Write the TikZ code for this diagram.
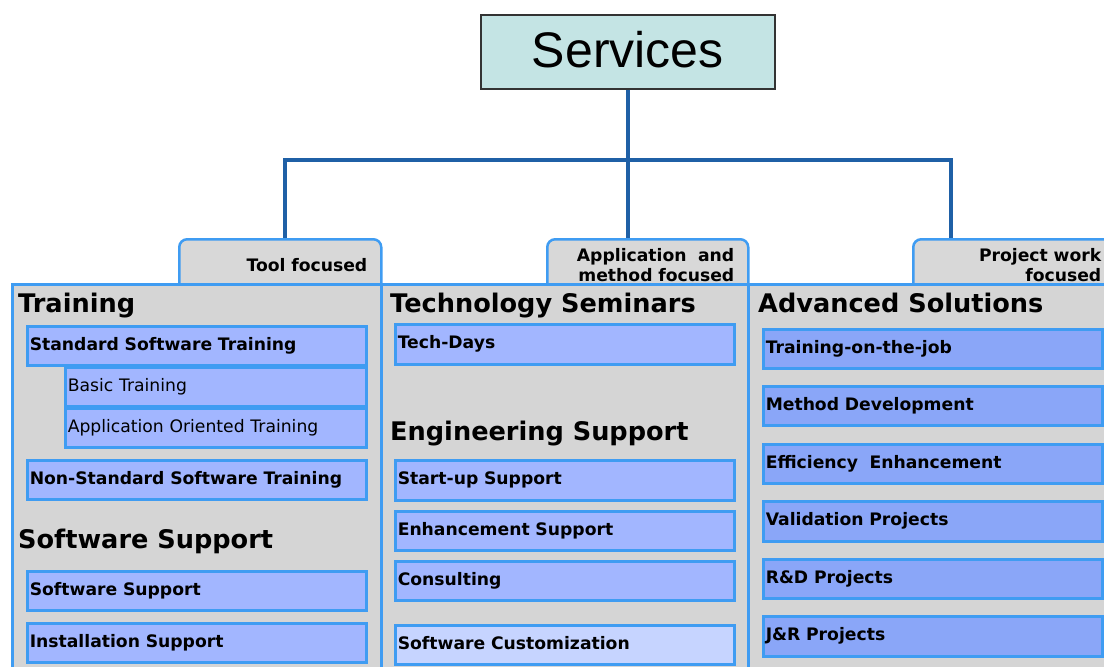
\documentclass[tikz,border=0pt]{standalone}
\usepackage{fontspec}
\setmainfont{DejaVu Sans}
\newfontfamily\arialf{Liberation Sans}
\definecolor{bord}{HTML}{3F9CF2}
\definecolor{colgray}{HTML}{D5D5D5}
\definecolor{tabgray}{HTML}{D8D8D8}
\definecolor{boxblue}{HTML}{A2B6FF}
\definecolor{boxblueB}{HTML}{8AA6F8}
\definecolor{boxlight}{HTML}{C6D4FF}
\definecolor{servfill}{HTML}{C4E4E4}
\definecolor{connblue}{HTML}{1F60A6}
\tikzset{
  column/.style={draw=bord, line width=2.5pt, fill=colgray, anchor=north west, inner sep=0pt},
  tabbox/.style={draw=bord, line width=2.5pt, fill=tabgray, rounded corners=8pt, anchor=north west,
    minimum height=52pt, inner xsep=14pt, inner ysep=0pt, align=right,
    font=\fontsize{17.2}{20}\selectfont\bfseries},
  item/.style={draw=bord, line width=2.5pt, fill=boxblue, anchor=north west, inner xsep=2.5pt, inner ysep=0pt,
    minimum height=39pt, text height=12pt, text depth=3.5pt, align=left,
    font=\fontsize{17.2}{20}\selectfont\bfseries},
  itemw/.style={item, text width=334pt},
  itemn/.style={item, text width=296pt, font=\fontsize{17.2}{20}\selectfont},
  itemb/.style={itemw, fill=boxblueB},
  head/.style={anchor=base west, inner sep=0pt, font=\fontsize{25.6}{30}\selectfont\bfseries},
  conn/.style={draw=connblue, line width=4pt},
}
\begin{document}
\begin{tikzpicture}[x=1pt,y=-1pt]
\useasboundingbox (0,0) rectangle (1104,667);
\clip (0,0) rectangle (1104,667);
% services
\node[draw=black!80, line width=1.5pt, fill=servfill, anchor=north west, minimum width=294pt, minimum height=74pt,
  inner sep=0pt, text height=38pt, text depth=6pt, font=\arialf\fontsize{50}{55}\selectfont] (services) at (480,14) {Services};
% tabs
\node[tabbox, text width=174pt] (tab1) at (178,238) {Tool focused\\[-6pt]};
\node[tabbox, text width=173pt] (tab2) at (546,238) {Application~ and\\method focused};
\node[tabbox, text width=200pt, inner xsep=2pt] (tab3) at (912,238) {Project work\hbox to 14pt{}\\focused\hbox to 14pt{}};
% connectors
\coordinate (j) at (627,160);
\draw[conn] (services.south) -- (services.south |- tab2.north);
\draw[conn] ([xshift=107pt]tab1.north west) |- (j) -| ([xshift=39pt]tab3.north west);
% columns
\node[column, minimum width=369pt, minimum height=420pt] (col1) at (11,283) {};
\node[column, minimum width=367pt, minimum height=420pt] (col2) at (380,283) {};
\node[column, minimum width=380pt, minimum height=420pt] (col3) at (747,283) {};
% column 1
\node[head] (h1) at (18,312) {Training};
\node[itemw] (sst) at (26,325) {Standard Software Training};
\node[itemn] (bt) at (64,366) {Basic Training};
\node[itemn] (aot) at (64,407) {Application Oriented Training};
\node[itemw] (nsst) at (26,459) {Non-Standard Software Training};
\node[head] (h2) at (18,548) {Software Support};
\node[itemw] (ss) at (26,570) {Software Support};
\node[itemw] (is) at (26,622) {Installation Support};
% column 2
\node[head] (h3) at (390,312) {Technology Seminars};
\node[itemw, minimum height=40pt] (td) at (394,323) {Tech-Days};
\node[head] (h4) at (390,440) {Engineering Support};
\node[itemw, minimum height=40pt] (sus) at (394,459) {Start-up Support};
\node[itemw] (es) at (394,510) {Enhancement Support};
\node[itemw] (con) at (394,560) {Consulting};
\node[itemw, fill=boxlight] (sc) at (394,624) {Software Customization};
% column 3
\node[head] (h5) at (758,312) {Advanced Solutions};
\node[itemb] (tj) at (762,328) {Training-on-the-job};
\node[itemb] (md) at (762,385) {Method Development};
\node[itemb] (ee) at (762,443) {Efficiency~ Enhancement};
\node[itemb, minimum height=40pt] (vp) at (762,500) {Validation Projects};
\node[itemb] (rd) at (762,558) {R\&D Projects};
\node[itemb, minimum height=40pt] (jr) at (762,615) {J\&R Projects};
\end{tikzpicture}
\end{document}
